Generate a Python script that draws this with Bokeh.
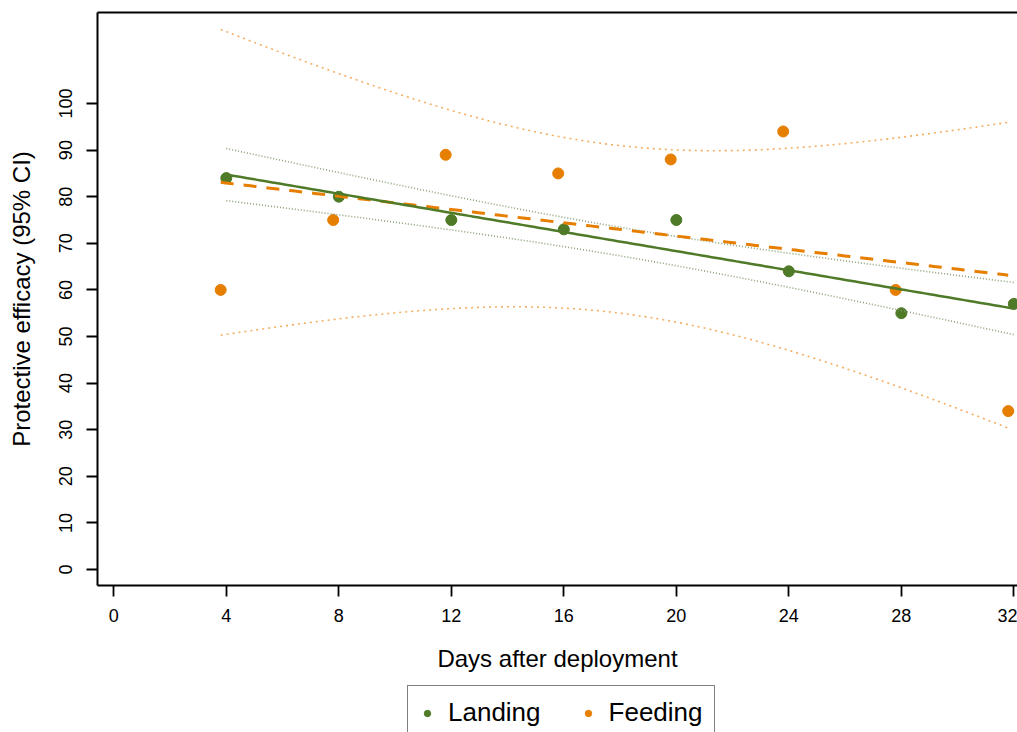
import numpy as np
from bokeh.plotting import figure
from bokeh.layouts import column
from bokeh.models import Range1d, FixedTicker, LinearAxis, Legend, LegendItem
from bokeh.embed import file_html
from bokeh.resources import INLINE

# ---- data ----
days_landing = [4, 8, 12, 16, 20, 24, 28, 32]
efficacy_landing = [84, 80, 75, 73, 75, 64, 55, 57]
days_feeding = [3.8, 7.8, 11.8, 15.8, 19.8, 23.8, 27.8, 31.8]
efficacy_feeding = [60, 75, 89, 85, 88, 94, 60, 34]
series_names = ["Landing", "Feeding"]
x_ticks = [0, 4, 8, 12, 16, 20, 24, 28, 32]
y_ticks = [0, 10, 20, 30, 40, 50, 60, 70, 80, 90, 100]
T_975_DF6 = 2.446912  # t quantile used for the 95% CI of the linear fit (n = 8)

GREEN = "#4f7a28"
ORANGE = "#e67e00"
FONT = "Liberation Sans"


def fit_band(x, y):
    x = np.asarray(x, float)
    y = np.asarray(y, float)
    n = len(x)
    b, a = np.polyfit(x, y, 1)
    resid = y - (a + b * x)
    s = np.sqrt(np.sum(resid ** 2) / (n - 2))
    sxx = np.sum((x - x.mean()) ** 2)
    xs = np.linspace(x.min(), x.max(), 160)
    fit = a + b * xs
    se = s * np.sqrt(1.0 / n + (xs - x.mean()) ** 2 / sxx)
    return xs, fit, fit - T_975_DF6 * se, fit + T_975_DF6 * se


p = figure(width=1017, height=680, output_backend="svg", toolbar_location=None,
           x_range=Range1d(-0.58, 32.13), y_range=Range1d(-3.43, 119.53),
           min_border_left=97, min_border_top=12, min_border_right=0, min_border_bottom=95,
           x_axis_label="Days after deployment", y_axis_label="Protective efficacy (95% CI)")
p.outline_line_color = None
p.grid.visible = False
p.background_fill_color = "white"
p.border_fill_color = "white"

for ax in (p.xaxis[0], p.yaxis[0]):
    ax.axis_line_width = 2
    ax.axis_line_color = "black"
    ax.major_tick_line_width = 1.8
    ax.major_tick_line_color = "black"
    ax.major_tick_in = 0
    ax.major_tick_out = 11
    ax.minor_tick_line_color = None
    ax.major_label_text_font = FONT
    ax.major_label_text_font_size = "18px"
    ax.major_label_text_color = "black"
    ax.axis_label_text_font = FONT
    ax.axis_label_text_font_size = "24px"
    ax.axis_label_text_font_style = "normal"
    ax.axis_label_text_color = "black"

p.xaxis[0].ticker = FixedTicker(ticks=x_ticks)
p.yaxis[0].ticker = FixedTicker(ticks=y_ticks)
p.xaxis[0].major_label_standoff = 12
p.xaxis[0].axis_label_standoff = 20
p.yaxis[0].major_label_orientation = "vertical"
p.yaxis[0].major_label_standoff = 14
p.yaxis[0].axis_label_standoff = 22

# top frame line
top = LinearAxis(ticker=FixedTicker(ticks=[]), axis_line_width=2, axis_line_color="black",
                 major_tick_out=0, major_tick_in=0, minor_tick_out=0, minor_tick_in=0,
                 major_label_text_font_size="0px", major_label_standoff=0)
p.add_layout(top, "above")

# points
r_land = p.scatter(days_landing, efficacy_landing, size=11, color=GREEN, line_color=GREEN)
r_feed = p.scatter(days_feeding, efficacy_feeding, size=11, color=ORANGE, line_color=ORANGE)

# fitted lines and confidence bands
xs_l, fit_l, lo_l, hi_l = fit_band(days_landing, efficacy_landing)
xs_f, fit_f, lo_f, hi_f = fit_band(days_feeding, efficacy_feeding)

for band in (lo_f, hi_f):
    p.line(xs_f, band, line_color="#f2a550", line_width=1.6, line_dash="2 4", line_alpha=0.9)
for band in (lo_l, hi_l):
    p.line(xs_l, band, line_color="#7f9868", line_width=1.6, line_dash="1 2", line_alpha=0.9)

p.line(xs_f, fit_f, line_color=ORANGE, line_width=3, line_dash="13 10")
p.line(xs_l, fit_l, line_color=GREEN, line_width=2.5)

# ---- legend strip below the plot (its key renderers fall outside its own view) ----
leg = figure(width=1017, height=52, output_backend="svg", toolbar_location=None,
             x_range=Range1d(0, 1), y_range=Range1d(0, 1),
             x_axis_location=None, y_axis_location=None, min_border=0)
leg.outline_line_color = None
leg.grid.visible = False
leg.background_fill_color = "white"
leg.border_fill_color = "white"
k_land = leg.scatter(days_landing, efficacy_landing, size=11, color=GREEN, line_color=GREEN)
k_feed = leg.scatter(days_feeding, efficacy_feeding, size=11, color=ORANGE, line_color=ORANGE)

legend = Legend(items=[LegendItem(label=series_names[0], renderers=[k_land]),
                       LegendItem(label=series_names[1], renderers=[k_feed])],
                orientation="horizontal", location=(310, -8),
                label_text_font=FONT, label_text_font_size="26px", label_text_color="black",
                glyph_width=16, glyph_height=16, label_standoff=13, spacing=39,
                padding=11, margin=0,
                border_line_color="black", border_line_width=1.5,
                background_fill_color="white", background_fill_alpha=1)
leg.add_layout(legend, "center")

layout = column(p, leg, spacing=0)
open("out.html", "w").write(file_html(layout, INLINE))
